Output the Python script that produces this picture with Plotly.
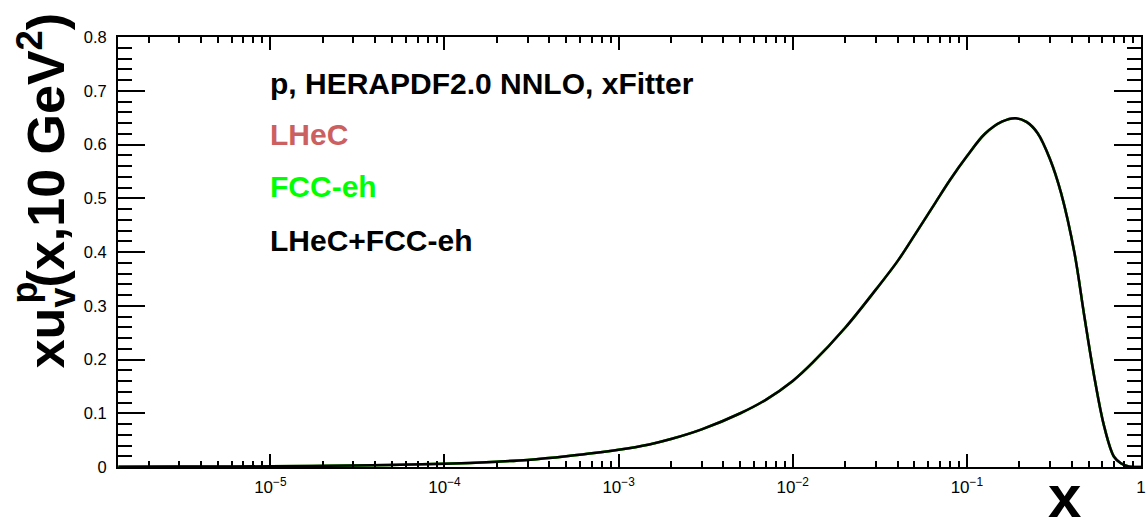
import plotly.graph_objects as go

# ---- data ----
x_values = [1.34e-6, 3e-6, 1e-5, 3e-5, 1e-4, 2e-4, 3e-4, 5e-4, 1e-3, 1.5e-3,
            2e-3, 3e-3, 5e-3, 7e-3, 0.01, 0.013, 0.02, 0.03, 0.04, 0.05,
            0.066, 0.08, 0.1, 0.127, 0.16, 0.19, 0.22, 0.255, 0.3, 0.348,
            0.415, 0.473, 0.539, 0.615, 0.70, 0.766, 0.85, 0.95, 1.0]
xuv_lhec = [0.0003, 0.0007, 0.0013, 0.0029, 0.0062, 0.0100, 0.0132, 0.020, 0.032, 0.042,
            0.052, 0.070, 0.100, 0.125, 0.160, 0.194, 0.259, 0.330, 0.383, 0.431,
            0.492, 0.534, 0.578, 0.620, 0.643, 0.649, 0.642, 0.621, 0.573, 0.509,
            0.398, 0.280, 0.168, 0.075, 0.019, 0.0069, 0.0008, 0.0001, 0.0]
xuv_fcceh = list(xuv_lhec)
xuv_combined = list(xuv_lhec)

series_names = ["LHeC", "FCC-eh", "LHeC+FCC-eh"]
series_colors = ["rgb(204,96,96)", "rgb(0,255,0)", "black"]

x_tick_vals = [1e-5, 1e-4, 1e-3, 1e-2, 1e-1, 1]
x_tick_text = ["10<sup>\u22125</sup>", "10<sup>\u22124</sup>", "10<sup>\u22123</sup>",
               "10<sup>\u22122</sup>", "10<sup>\u22121</sup>", "1"]
y_tick_vals = [0, 0.1, 0.2, 0.3, 0.4, 0.5, 0.6, 0.7, 0.8]
y_tick_text = ["0", "0.1", "0.2", "0.3", "0.4", "0.5", "0.6", "0.7", "0.8"]

minor_x = [k * 10.0 ** e for e in range(-6, 0) for k in range(2, 10)]
minor_y = [i * 0.02 for i in range(0, 41)]

W, H = 1148, 521
L, R, T, B = 118, 2, 37, 54
pw, ph = W - L - R, H - T - B


def px(xp):
    return (xp - L) / pw


def py(yp):
    return (H - B - yp) / ph


fig = go.Figure()
for name, vals, col in zip(series_names, [xuv_lhec, xuv_fcceh, xuv_combined], series_colors):
    fig.add_trace(go.Scatter(x=x_values, y=vals, mode="lines", name=name,
                             line=dict(color=col, width=2.5, shape="spline", smoothing=1.0)))

font_main = "Liberation Sans, Arial, Helvetica, sans-serif"

fig.update_layout(
    width=W, height=H, autosize=False,
    margin=dict(l=L, r=R, t=T, b=B, pad=0),
    paper_bgcolor="white", plot_bgcolor="white",
    showlegend=False,
    font=dict(family=font_main, color="black"),
    xaxis=dict(type="log", range=[-5.875, 0], showline=True, linecolor="black", linewidth=2,
               mirror="allticks", ticks="inside", ticklen=13, tickwidth=1.5, tickcolor="black",
               tickmode="array", tickvals=x_tick_vals, ticktext=x_tick_text,
               tickfont=dict(size=17, family=font_main), ticklabelstandoff=4,
               ticklabeloverflow="allow",
               showgrid=False, zeroline=False,
               minor=dict(ticks="inside", ticklen=6, tickwidth=1.5, tickcolor="black",
                          tickmode="array", tickvals=minor_x, showgrid=False)),
    yaxis=dict(range=[0, 0.8], showline=True, linecolor="black", linewidth=2,
               mirror="allticks", ticks="inside", ticklen=27, tickwidth=1.5, tickcolor="black",
               tickmode="array", tickvals=y_tick_vals, ticktext=y_tick_text,
               tickfont=dict(size=16.5, family=font_main), ticklabelstandoff=6,
               ticklabeloverflow="allow",
               showgrid=False, zeroline=False,
               minor=dict(ticks="inside", ticklen=14, tickwidth=1.5, tickcolor="black",
                          tickmode="array", tickvals=minor_y, showgrid=False)),
)

# legend-like texts
legend_lines = ["p, HERAPDF2.0 NNLO, xFitter"] + series_names
legend_colors = ["black"] + series_colors
legend_y = [84, 134, 187, 240]
for txt, col, yy in zip(legend_lines, legend_colors, legend_y):
    fig.add_annotation(text="<b>" + txt + "</b>", xref="paper", yref="paper",
                       x=px(269), y=py(yy), xanchor="left", yanchor="middle",
                       showarrow=False, font=dict(size=30, color=col, family=font_main))

# y-axis title
fig.add_annotation(text="<b>xu<sub>v</sub>(x,10 GeV<sup>2</sup>)</b>", xref="paper", yref="paper",
                   x=px(46), y=py(190), xanchor="center", yanchor="middle", textangle=-90,
                   showarrow=False, font=dict(size=52, color="black", family=font_main))
fig.add_annotation(text="<b>p</b>", xref="paper", yref="paper",
                   x=px(24), y=py(292), xanchor="center", yanchor="middle", textangle=-90,
                   showarrow=False, font=dict(size=36, color="black", family=font_main))

# x-axis title
fig.add_annotation(text="<b>x</b>", xref="paper", yref="paper",
                   x=px(1069), y=py(497), xanchor="center", yanchor="middle",
                   showarrow=False, font=dict(size=60, color="black", family=font_main))

fig.write_html("out.html")
